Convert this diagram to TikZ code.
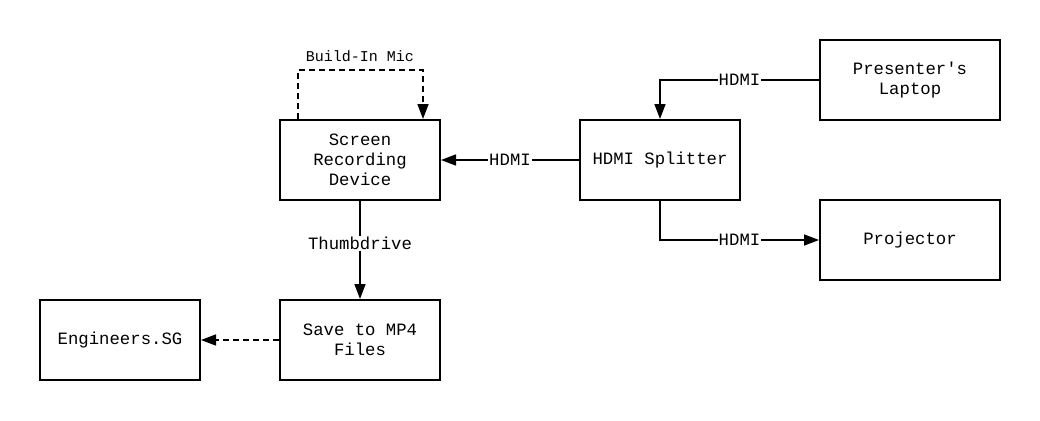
\documentclass[tikz,border=0pt]{standalone}
\usepackage{fontspec}
\setmonofont{Liberation Mono}
\usetikzlibrary{arrows.meta}
\begin{document}
\begin{tikzpicture}[x=1pt,y=-1pt,
  box/.style={draw,line width=2pt,minimum width=160pt,minimum height=80pt,align=center,font=\fontsize{17.3}{20}\selectfont\ttfamily,inner sep=0pt},
  wbox/.style={box,minimum width=180pt},
  conn/.style={line width=1.6pt,-{Triangle[length=15pt,width=11pt]}},
  dconn/.style={conn,dash pattern=on 6pt off 4pt},
  lbl/.style={fill=white,inner sep=1pt,font=\fontsize{17.3}{20}\selectfont\ttfamily},
  slbl/.style={inner sep=1pt,font=\fontsize{15}{18}\selectfont\ttfamily}]
\useasboundingbox[fill=white] (0,0) rectangle (1040,420);
\node[box] (srd) at (360,160) {Screen\\Recording\\Device};
\node[box] (split) at (660,160) {HDMI Splitter};
\node[wbox] (lap) at (910,80) {Presenter's\\Laptop};
\node[wbox] (proj) at (910,240) {Projector};
\node[box] (save) at (360,340) {Save to MP4\\Files};
\node[box] (eng) at (120,340) {Engineers.SG};
\coordinate (m1) at (298,70);
\coordinate (m2) at (423,70);
\draw[dconn] (srd.north -| m1) -- (m1) -- (m2) -- (srd.north -| m2);
\node[slbl] (miclbl) at (360,56) {Build-In Mic};
\draw[conn] (lap.west) -- (split.north |- lap.west) node[lbl,pos=0.5] {HDMI} -- (split.north);
\draw[conn] (split.west) -- node[lbl] {HDMI} (srd.east);
\draw[conn] (split.south) -- (split.south |- proj.west) -- node[lbl,pos=0.5] {HDMI} (proj.west);
\draw[conn] (srd.south) -- node[lbl,pos=0.43] {Thumbdrive} (save.north);
\draw[dconn] (save.west) -- (eng.east);
\end{tikzpicture}
\end{document}
